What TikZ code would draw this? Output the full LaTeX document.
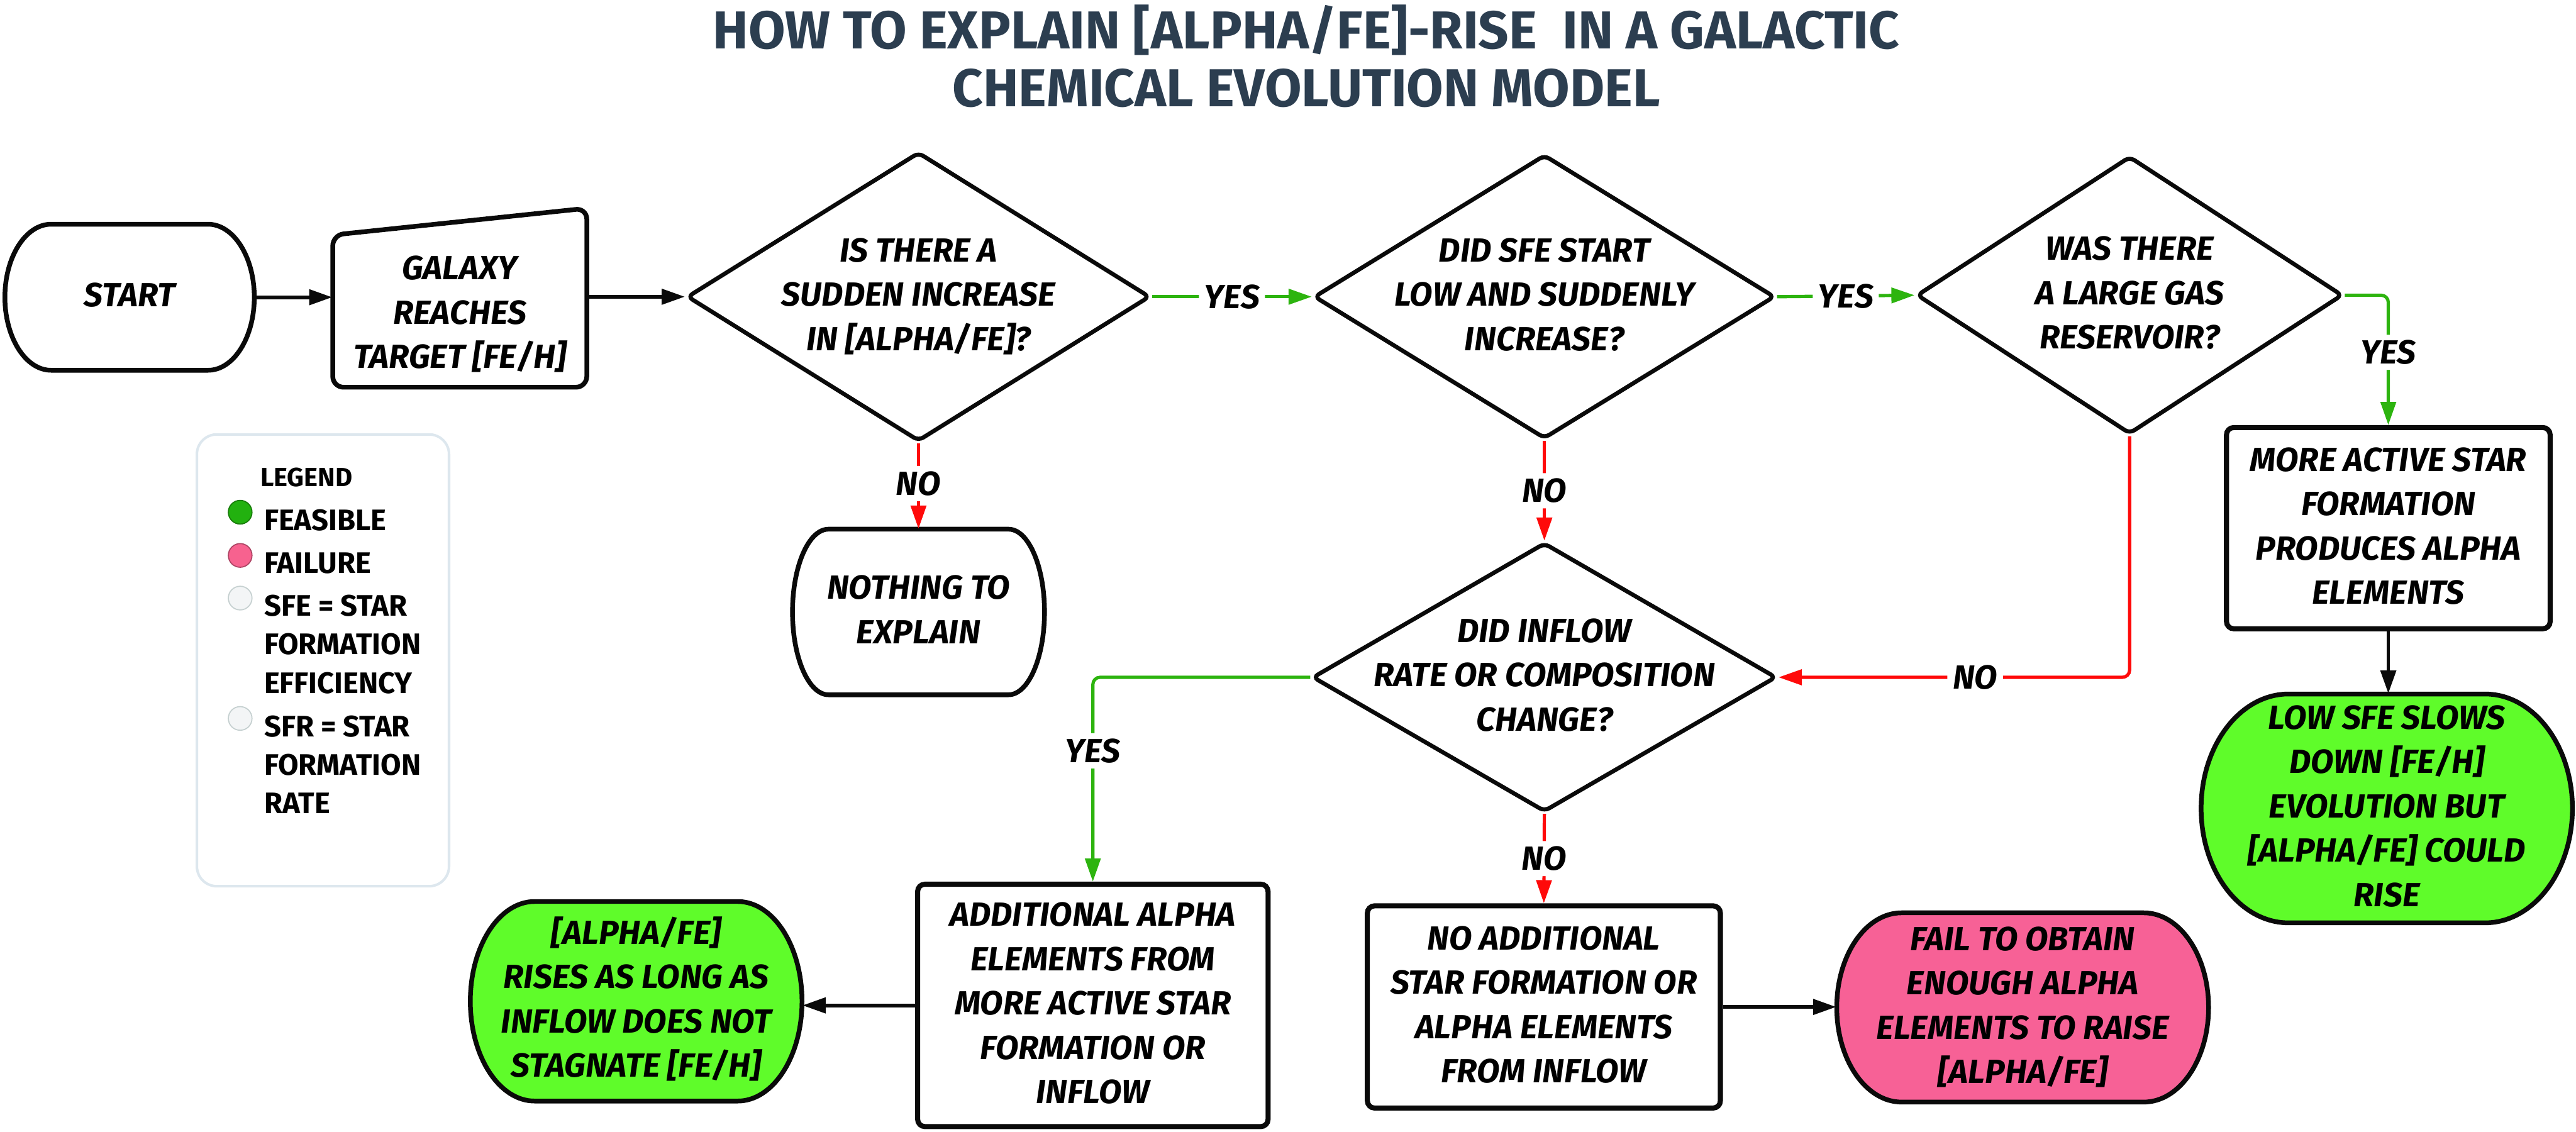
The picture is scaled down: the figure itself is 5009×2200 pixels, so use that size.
\documentclass[tikz,border=0pt]{standalone}
\usepackage{fontspec}
\setmainfont{Fira Sans}
\usetikzlibrary{arrows.meta,shapes.geometric}
\definecolor{titlecol}{HTML}{2C3E50}
\definecolor{lnGreen}{HTML}{2DB40F}
\definecolor{lnRed}{HTML}{FF0A0A}
\definecolor{fillGreen}{HTML}{5FFC2A}
\definecolor{fillPink}{HTML}{F76196}
\definecolor{lgBorder}{HTML}{DDE7EE}
\definecolor{dotGreen}{HTML}{22B10F}
\definecolor{dotPink}{HTML}{F7628F}
\definecolor{dotGray}{HTML}{F3F5F6}
\definecolor{dotGrayLine}{HTML}{C5D0D0}
\definecolor{inkc}{HTML}{0A0A0A}
\newcommand\nodefont{\bfseries\itshape\fontsize{18.5}{24.5}\selectfont}
\newcommand\zt[1]{\makebox[0pt]{\smash{\raisebox{-0.25em}{\begin{tabular}{@{}c@{}}#1\end{tabular}}}}}
% terminator (barrel) outline: cx, cy, w, h, a, style
\newcommand\termshape[6]{%
 \draw[#6] ({#1-#3/2+#5},{#2+#4/2}) -- ({#1+#3/2-#5},{#2+#4/2})
 .. controls ({#1+#3/2-0.4477*#5},{#2+#4/2}) and ({#1+#3/2},{#2+0.2761*#4}) .. ({#1+#3/2},{#2})
 .. controls ({#1+#3/2},{#2-0.2761*#4}) and ({#1+#3/2-0.4477*#5},{#2-#4/2}) .. ({#1+#3/2-#5},{#2-#4/2})
 -- ({#1-#3/2+#5},{#2-#4/2})
 .. controls ({#1-#3/2+0.4477*#5},{#2-#4/2}) and ({#1-#3/2},{#2-0.2761*#4}) .. ({#1-#3/2},{#2})
 .. controls ({#1-#3/2},{#2+0.2761*#4}) and ({#1-#3/2+0.4477*#5},{#2+#4/2}) .. cycle;}
\tikzset{
 shapeline/.style={draw=inkc, line width=2.6pt, line join=round},
 boxnode/.style={rectangle, draw=inkc, line width=2.8pt, rounded corners=4pt, fill=white, inner sep=0pt, font=\nodefont},
 dianode/.style={diamond, draw=inkc, line width=2.3pt, rounded corners=3pt, fill=white, inner sep=0pt, font=\nodefont},
 plainnode/.style={rectangle, inner sep=0pt, font=\nodefont},
 arrB/.style={draw=inkc, line width=2pt, -{Triangle[length=12.8pt,width=8.4pt]}},
 arrG/.style={draw=lnGreen, line width=1.8pt, rounded corners=4pt, -{Triangle[length=12.8pt,width=8.4pt]}},
 arrR/.style={draw=lnRed, line width=1.8pt, rounded corners=4pt, -{Triangle[length=12.8pt,width=8.4pt]}},
 lbl/.style={fill=white, inner sep=3pt, font=\nodefont, text=black},
 legtext/.style={anchor=west, inner sep=0pt, align=left, font=\bfseries\fontsize{16.4}{21.3}\selectfont},
 dot/.style={circle, minimum size=0.46cm, inner sep=0pt, line width=0.6pt},
}
\begin{document}
\begin{tikzpicture}[x=0.01cm, y=0.01cm]
\useasboundingbox[fill=white] (0,0) rectangle (5009,-2200);

% title
\node[font=\bfseries\fontsize{29.5}{31.9}\selectfont, text=titlecol, align=center] (title) at (2540,-109)
  {HOW TO EXPLAIN [ALPHA/FE]-RISE\ \ IN A GALACTIC\\CHEMICAL EVOLUTION MODEL};

% start
\termshape{252}{-578}{485}{284}{90}{shapeline, fill=white}
\node[plainnode, minimum width=4.85cm, minimum height=2.84cm] (start) at (252,-578) {\zt{START}};

% galaxy (manual input)
\draw[shapeline, fill=white, rounded corners=6pt] (647,-457) -- (1141,-405) -- (1141,-753) -- (647,-753) -- cycle;
\node[plainnode, minimum width=4.94cm, minimum height=2.82cm] (galaxy) at (894,-612) {\zt{GALAXY\\REACHES\\TARGET [FE/H]}};

% decisions
\node[dianode, minimum width=9cm, minimum height=5.62cm] (d1) at (1786,-577) {\zt{IS THERE A\\SUDDEN INCREASE\\IN [ALPHA/FE]?}};
\node[dianode, minimum width=8.96cm, minimum height=5.52cm] (d2) at (3003,-577) {\zt{DID SFE START\\LOW AND SUDDENLY\\INCREASE?}};
\node[dianode, minimum width=8.28cm, minimum height=5.40cm] (d3) at (4141,-574) {\zt{WAS THERE\\A LARGE GAS\\RESERVOIR?}};
\node[dianode, minimum width=9.02cm, minimum height=5.23cm] (d4) at (3003,-1317) {\zt{DID INFLOW\\RATE OR COMPOSITION\\CHANGE?}};

% nothing to explain
\termshape{1786}{-1190}{490}{322}{70}{shapeline, fill=white}
\node[plainnode, minimum width=4.9cm, minimum height=3.22cm] (nothing) at (1786,-1190) {\zt{NOTHING TO\\EXPLAIN}};

% right column
\node[boxnode, minimum width=6.29cm, minimum height=3.91cm] (more) at (4644,-1027) {\zt{MORE ACTIVE STAR\\FORMATION\\PRODUCES ALPHA\\ELEMENTS}};
\termshape{4641}{-1572}{722}{445}{170}{shapeline, fill=fillGreen}
\node[plainnode, minimum width=7.22cm, minimum height=4.45cm] (low) at (4641,-1572) {\zt{LOW SFE SLOWS\\DOWN [FE/H]\\EVOLUTION BUT\\{[}ALPHA/FE] COULD\\RISE}};

% bottom row
\node[boxnode, minimum width=6.81cm, minimum height=4.71cm] (add) at (2125,-1955) {\zt{ADDITIONAL ALPHA\\ELEMENTS FROM\\MORE ACTIVE STAR\\FORMATION OR\\INFLOW}};
\termshape{1237}{-1947}{645}{388}{125}{shapeline, fill=fillGreen}
\node[plainnode, minimum width=6.45cm, minimum height=3.88cm] (rises) at (1237,-1947) {\zt{[ALPHA/FE]\\RISES AS LONG AS\\INFLOW DOES NOT\\STAGNATE [FE/H]}};
\node[boxnode, minimum width=6.86cm, minimum height=3.93cm] (noadd) at (3002,-1958) {\zt{NO ADDITIONAL\\STAR FORMATION OR\\ALPHA ELEMENTS\\FROM INFLOW}};
\termshape{3933}{-1959}{723}{368}{126}{shapeline, fill=fillPink}
\node[plainnode, minimum width=7.23cm, minimum height=3.68cm] (fail) at (3933,-1959) {\zt{FAIL TO OBTAIN\\ENOUGH ALPHA\\ELEMENTS TO RAISE\\{[}ALPHA/FE]}};

% legend
\node[draw=lgBorder, line width=1.4pt, rounded corners=11pt, minimum width=4.9cm, minimum height=8.78cm, inner sep=0pt] (legend) at (628,-1284) {};
\node[font=\bfseries\fontsize{14.5}{17}\selectfont, inner sep=0pt] (legtitle) at (596,-928) {LEGEND};
\node[dot, fill=dotGreen, draw=dotGreen!70!black] (dotA) at (467,-996) {};
\node[dot, fill=dotPink, draw=dotPink!70!black] (dotB) at (467,-1080) {};
\node[dot, fill=dotGray, draw=dotGrayLine] (dotC) at (467,-1163) {};
\node[dot, fill=dotGray, draw=dotGrayLine] (dotD) at (467,-1397) {};
\node[legtext] (legA) at (513,-1011) {FEASIBLE};
\node[legtext] (legB) at (513,-1095) {FAILURE};
\node[legtext] (legC) at (513,-1253) {SFE = STAR\\FORMATION\\EFFICIENCY};
\node[legtext] (legD) at (513,-1487) {SFR = STAR\\FORMATION\\RATE};

% connectors
\draw[arrB] (start.east) -- (start.east -| galaxy.west);
\draw[arrB] (galaxy.east |- d1.west) -- (d1.west);
\draw[arrG] (d1.east) -- node[lbl]{YES} (d2.west);
\draw[arrG] (d2.east) -- node[lbl]{YES} (d3.west);
\draw[arrG] (d3.east) -| node[lbl, pos=0.72]{YES} (more.north);
\draw[arrR] (d1.south) -- node[lbl, pos=0.47]{NO} (nothing.north);
\draw[arrR] (d2.south) -- node[lbl]{NO} (d4.north);
\draw[arrR] (d3.south) |- node[lbl, pos=0.72]{NO} (d4.east);
\draw[arrG] (d4.west) -| node[lbl, pos=0.68]{YES} (add.north);
\draw[arrR] (d4.south) -- node[lbl]{NO} (noadd.north);
\draw[arrB] (add.west) -- (add.west -| rises.east);
\draw[arrB] (noadd.east) -- (noadd.east -| fail.west);
\draw[arrB] (more.south) -- (more.south |- low.north);
\end{tikzpicture}
\end{document}
